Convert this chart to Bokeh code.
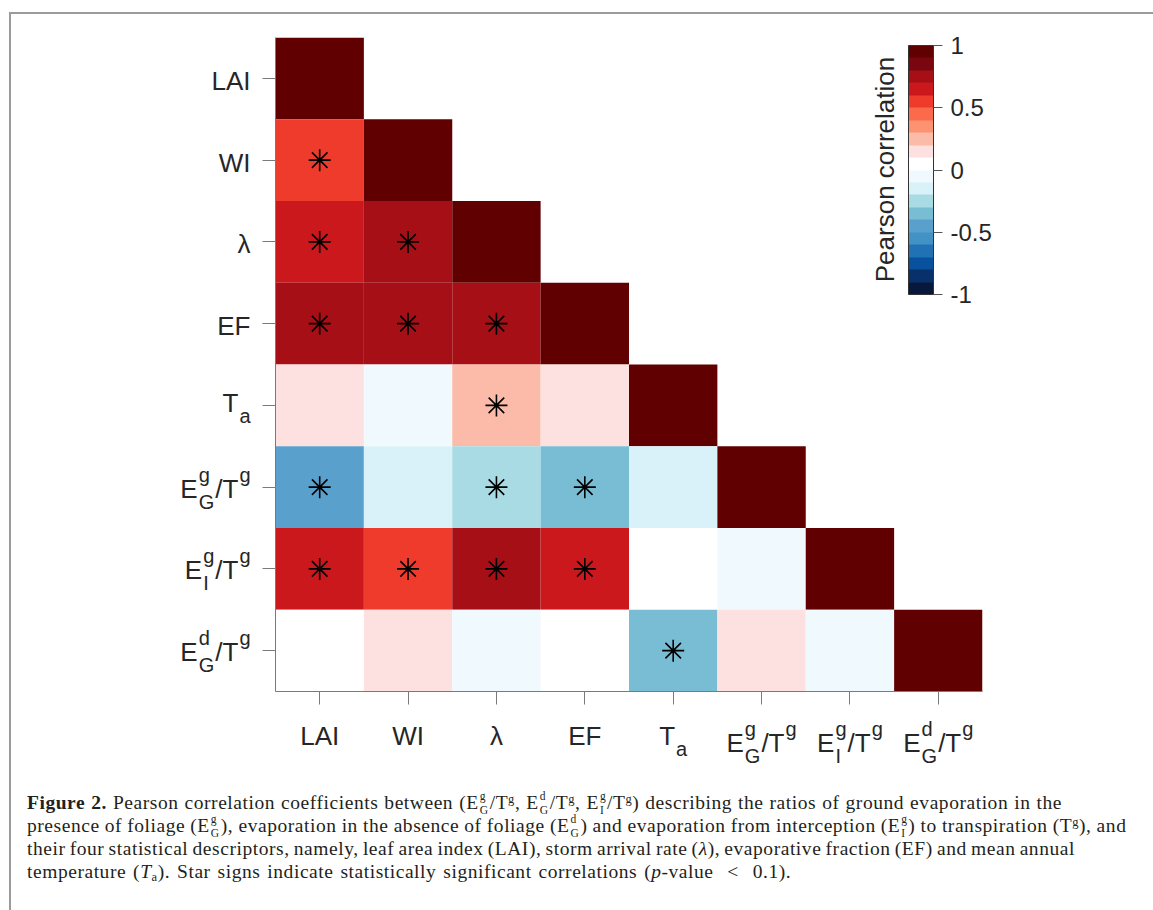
import math
from bokeh.plotting import figure
from bokeh.models import (ColumnDataSource, LinearColorMapper, ColorBar, FixedTicker,
                          Range1d, Label, Div, Spacer)
from bokeh.layouts import column, row
from bokeh.transform import transform
from bokeh.core.properties import value
from bokeh.embed import file_html
from bokeh.resources import INLINE

# ---------------- data ----------------
var_keys = ["LAI", "WI", "lambda", "EF", "Ta", "EgG_Tg", "EgI_Tg", "EdG_Tg"]
plain_labels = {"LAI": "LAI", "WI": "WI", "lambda": "λ", "EF": "EF"}

row_LAI = [1.0]
row_WI = [0.55, 1.0]
row_lambda = [0.65, 0.75, 1.0]
row_EF = [0.75, 0.75, 0.75, 1.0]
row_Ta = [0.15, -0.05, 0.25, 0.15, 1.0]
row_EgG = [-0.45, -0.15, -0.25, -0.35, -0.15, 1.0]
row_EgI = [0.65, 0.55, 0.75, 0.65, 0.05, -0.05, 1.0]
row_EdG = [0.05, 0.15, -0.05, 0.05, -0.35, 0.15, -0.05, 1.0]

sig_LAI = [0]
sig_WI = [1, 0]
sig_lambda = [1, 1, 0]
sig_EF = [1, 1, 1, 0]
sig_Ta = [0, 0, 1, 0, 0]
sig_EgG = [1, 0, 1, 1, 0, 0]
sig_EgI = [1, 1, 1, 1, 0, 0, 0]
sig_EdG = [0, 0, 0, 0, 1, 0, 0, 0]

palette = ["#08183c", "#08306b", "#08519c", "#2171b5", "#4292c6",
           "#5aa0cc", "#78bdd4", "#a8dbe3", "#d9f2fa", "#eff9fe",
           "#ffffff", "#fde0e0", "#fcbba8", "#fc9272", "#fb6a4a",
           "#ef3b2c", "#cb181d", "#a50f15", "#7a0710", "#600000"]

cbar_ticks = [-1, -0.5, 0, 0.5, 1]
cbar_tick_labels = ["-1", "-0.5", "0", "0.5", "1"]

rows = [row_LAI, row_WI, row_lambda, row_EF, row_Ta, row_EgG, row_EgI, row_EdG]
sigs = [sig_LAI, sig_WI, sig_lambda, sig_EF, sig_Ta, sig_EgG, sig_EgI, sig_EdG]

xs, ys, vals = [], [], []
sx, sy = [], []
for r, (vrow, srow) in enumerate(zip(rows, sigs)):
    for c, (v, s) in enumerate(zip(vrow, srow)):
        xs.append(c + 0.5)
        ys.append(r + 0.5)
        vals.append(v)
        if s:
            sx.append(c + 0.5)
            sy.append(r + 0.5)

src = ColumnDataSource(dict(x=xs, y=ys, v=vals))
star_src = ColumnDataSource(dict(x=sx, y=sy))

mapper = LinearColorMapper(palette=palette, low=-1, high=1)

FONT = "Liberation Sans"
TXT = "#262626"
AX = "#7a7a7a"

# geometry (pixels)
LEFT_W = 244      # width of the left tick-label strip
BORDER_L = 20     # main figure left border (tick marks)
FRAME_W, FRAME_H = 707, 654
BORDER_R = 171
BORDER_T, BORDER_B = 23, 20
BOTTOM_H = 69
MAIN_W = BORDER_L + FRAME_W + BORDER_R
MAIN_H = BORDER_T + FRAME_H + BORDER_B

p = figure(width=MAIN_W, height=MAIN_H, x_range=Range1d(0, 8), y_range=Range1d(8, 0),
           min_border_left=BORDER_L, min_border_right=BORDER_R,
           min_border_top=BORDER_T, min_border_bottom=BORDER_B,
           output_backend="svg", toolbar_location=None)
p.grid.visible = False
p.outline_line_color = None
p.background_fill_color = "white"
p.border_fill_color = "white"

p.rect(x="x", y="y", width=1, height=1, source=src,
       fill_color=transform("v", mapper), line_color=None)
p.scatter(x="x", y="y", source=star_src, marker="asterisk", size=22,
          line_color="black", line_width=1.6)

ticks = [i + 0.5 for i in range(8)]
for ax in (p.xaxis[0], p.yaxis[0]):
    ax.ticker = FixedTicker(ticks=ticks)
    ax.major_label_overrides = {t: "" for t in ticks}
    ax.major_label_text_font_size = "0px"
    ax.major_label_standoff = 0
    ax.minor_tick_line_color = None
    ax.major_tick_in = 0
    ax.major_tick_out = 13
    ax.axis_line_color = AX
    ax.major_tick_line_color = AX

# ---- colour bar ----
cb = ColorBar(color_mapper=mapper, location=(633, 397), orientation="vertical",
              width=25, height=249, padding=0, margin=0,
              ticker=FixedTicker(ticks=cbar_ticks),
              major_label_overrides=dict(zip([float(t) for t in cbar_ticks], cbar_tick_labels)),
              major_tick_in=0, major_tick_out=9, major_tick_line_color="#555555",
              minor_tick_line_color=None,
              bar_line_color="#333333", bar_line_width=1,
              label_standoff=8, major_label_text_font=FONT,
              major_label_text_font_size="24px", major_label_text_color=TXT,
              background_fill_alpha=0, border_line_color=None)
p.add_layout(cb)

p.add_layout(Label(x=609, y=522, x_units="screen", y_units="screen", angle=math.pi / 2,
                   text="Pearson correlation", text_font=FONT, text_font_size="26px",
                   text_color=TXT, text_align="center", text_baseline="middle"))

# ---- tick labels (with sub/superscripts) in strips sharing the ranges ----
WID = {"E": 0.667, "T": 0.611, "G": 0.778, "I": 0.278, "g": 0.556, "d": 0.556,
       "a": 0.556, "/": 0.278}
BIG, SMALL = 26, 20
SUP, SUB = -14, 13     # baseline shift in px (negative = up)


def tw(s, size):
    return sum(WID[ch] for ch in s) * size


def pieces_for(key):
    out = []
    x = 0.0
    if key == "Ta":
        out.append(("T", BIG, 0, x)); x += tw("T", BIG) + 1
        out.append(("a", SMALL, 13, x)); x += tw("a", SMALL)
        return out, x
    sup = "d" if key == "EdG_Tg" else "g"
    sub = "I" if key == "EgI_Tg" else "G"
    out.append(("E", BIG, 0, x)); x += tw("E", BIG) + 1
    out.append((sup, SMALL, SUP, x))
    out.append((sub, SMALL, SUB, x))
    x += max(tw(sup, SMALL), tw(sub, SMALL)) + 1
    out.append(("/T", BIG, 0, x)); x += tw("/T", BIG) + 1
    out.append(("g", SMALL, SUP, x)); x += tw("g", SMALL)
    return out, x


bx_simple = dict(x=[], y=[], text=[])
bx_pieces = dict(x=[], xo=[], y=[], text=[], fs=[])
ly_simple = dict(x=[], y=[], text=[], yo=[])
ly_pieces = dict(x=[], y=[], yo=[], text=[], fs=[])

LBL_RIGHT = 239          # right edge of y tick labels inside left strip
for i, k in enumerate(var_keys):
    if k in plain_labels:
        bx_simple["x"].append(i + 0.5); bx_simple["y"].append(24); bx_simple["text"].append(plain_labels[k])
        ly_simple["x"].append(LBL_RIGHT); ly_simple["y"].append(i + 0.5)
        ly_simple["yo"].append(2.5); ly_simple["text"].append(plain_labels[k])
        continue
    pcs, total = pieces_for(k)
    base_b = 24 if k == "Ta" else 31
    base_l = -2.5 if k == "Ta" else 1.5
    for t, size, dy, dx in pcs:
        bx_pieces["x"].append(i + 0.5); bx_pieces["xo"].append(-total / 2 + dx)
        bx_pieces["y"].append(base_b + dy); bx_pieces["text"].append(t); bx_pieces["fs"].append(f"{size}px")
        ly_pieces["x"].append(LBL_RIGHT - total + dx); ly_pieces["y"].append(i + 0.5)
        ly_pieces["yo"].append(base_l + dy); ly_pieces["text"].append(t); ly_pieces["fs"].append(f"{size}px")

bottom = figure(width=MAIN_W, height=BOTTOM_H, x_range=p.x_range, y_range=Range1d(BOTTOM_H, 0),
                min_border_left=BORDER_L, min_border_right=BORDER_R,
                min_border_top=0, min_border_bottom=0, x_axis_type=None, y_axis_type=None,
                output_backend="svg", toolbar_location=None)
left = figure(width=LEFT_W, height=MAIN_H, x_range=Range1d(0, LEFT_W), y_range=p.y_range,
              min_border_left=0, min_border_right=0,
              min_border_top=BORDER_T, min_border_bottom=BORDER_B,
              x_axis_type=None, y_axis_type=None,
              output_backend="svg", toolbar_location=None)
for f in (bottom, left):
    f.grid.visible = False
    f.outline_line_color = None
    f.background_fill_color = "white"
    f.border_fill_color = "white"

bottom.text(x="x", y="y", text="text", source=ColumnDataSource(bx_simple),
            text_font=value(FONT), text_font_size=value("26px"), text_color=TXT,
            text_align="center", text_baseline="alphabetic")
bottom.text(x="x", y="y", text="text", x_offset="xo", source=ColumnDataSource(bx_pieces),
            text_font=value(FONT), text_font_size="fs", text_color=TXT,
            text_align="left", text_baseline="alphabetic")
left.text(x="x", y="y", text="text", y_offset="yo", source=ColumnDataSource(ly_simple),
          text_font=value(FONT), text_font_size=value("26px"), text_color=TXT,
          text_align="right", text_baseline="alphabetic")
left.text(x="x", y="y", text="text", y_offset="yo", source=ColumnDataSource(ly_pieces),
          text_font=value(FONT), text_font_size="fs", text_color=TXT,
          text_align="left", text_baseline="alphabetic")

# ---- caption ----
def ss(sup, sub, w):
    return ('<span style="position:relative;display:inline-block;height:0;'
            f'width:{w}px;margin-left:1px">'
            f'<span style="position:absolute;left:0;bottom:6.5px;font-size:11.5px;line-height:11.5px">{sup}</span>'
            f'<span style="position:absolute;left:0;top:-4px;font-size:11.5px;line-height:11.5px">{sub}</span>'
            '</span>')


def sp(t):
    return f'<span style="position:relative;top:-0.45em;font-size:0.64em">{t}</span>'


def sb(t):
    return f'<span style="position:relative;top:0.25em;font-size:0.64em">{t}</span>'


def ln(html, ws):
    return f'<div style="word-spacing:{ws}px;height:23px;line-height:23px">{html}</div>'


line1 = ('<b>Figure 2.</b> Pearson correlation coefficients between '
         f'(E{ss("g","G",10)}/T{sp("g")}, E{ss("d","G",10)}/T{sp("g")}, E{ss("g","I",7)}/T{sp("g")}) '
         'describing the ratios of ground evaporation in the')
line2 = (f'presence of foliage (E{ss("g","G",10)}), evaporation in the absence of foliage '
         f'(E{ss("d","G",10)}) and evaporation from interception (E{ss("g","I",7)}) to transpiration '
         f'(T{sp("g")}), and')
line3 = ('their four statistical descriptors, namely, leaf area index (LAI), storm arrival rate '
         '(<i>λ</i>), evaporative fraction (EF) and mean annual')
line4 = (f'temperature (<i>T</i>{sb("a")}). '
         'Star signs indicate statistically significant correlations (<i>p</i>-value &nbsp;&lt;&nbsp; 0.1).')

cap = Div(text=ln(line1, 0.6) + ln(line2, -0.3) + ln(line3, -1.2) + ln(line4, 1.5),
          width=1130, height=120,
          styles={"font-family": "Liberation Serif", "font-size": "19.5px",
                  "color": "#231f20", "white-space": "nowrap",
                  "letter-spacing": "0.55px",
                  "padding-left": "11px", "padding-top": "6px"})

root = column(row(left, p), row(Spacer(width=LEFT_W, height=BOTTOM_H), bottom), cap,
              styles={"border-left": "2px solid #9b9b9b",
                      "border-top": "2px solid #9b9b9b",
                      "margin-left": "9px", "margin-top": "12px"})

open("out.html", "w").write(file_html(root, INLINE))
